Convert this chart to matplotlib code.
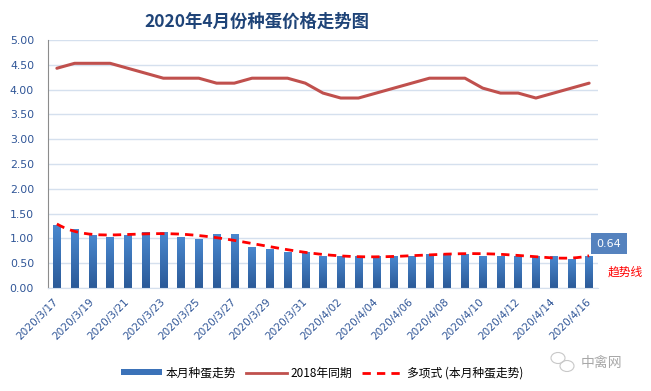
import numpy as np
import matplotlib
matplotlib.use("Agg")
import matplotlib.pyplot as plt
from matplotlib.lines import Line2D
from matplotlib.patches import Patch, Ellipse
from matplotlib.colors import LinearSegmentedColormap

plt.rcParams['font.family'] = ['Noto Sans CJK SC', 'DejaVu Sans']

# ---------------- data ----------------
dates = ["2020/3/%d" % d for d in range(17, 32)] + ["2020/4/%02d" % d for d in range(1, 17)]
this_month = [1.28, 1.18, 1.07, 1.03, 1.07, 1.13, 1.13, 1.03, 0.99, 1.09,
              1.09, 0.83, 0.79, 0.73, 0.73, 0.65, 0.65, 0.65, 0.65, 0.65,
              0.65, 0.69, 0.69, 0.69, 0.65, 0.65, 0.65, 0.65, 0.65, 0.59,
              0.64]
same_2018 = [4.43, 4.53, 4.53, 4.53, 4.43, 4.33, 4.23, 4.23, 4.23, 4.13,
             4.13, 4.23, 4.23, 4.23, 4.13, 3.93, 3.83, 3.83, 3.93, 4.03,
             4.13, 4.23, 4.23, 4.23, 4.03, 3.93, 3.93, 3.83, 3.93, 4.03,
             4.13]
yticks = [0.0, 0.5, 1.0, 1.5, 2.0, 2.5, 3.0, 3.5, 4.0, 4.5, 5.0]
title = "2020年4月份种蛋价格走势图"
legend_labels = ["本月种蛋走势", "2018年同期", "多项式 (本月种蛋走势)"]

# ---------------- figure ----------------
W, H = 651, 391
fig = plt.figure(figsize=(W / 100, H / 100), dpi=100)
ax = fig.add_axes([48 / W, 1 - 288 / H, 550 / W, 248 / H])

x = np.arange(len(dates))
bars = ax.bar(x, this_month, width=0.42, color="#3b72b8", zorder=2)

# gradient fill on bars
grad = np.linspace(0, 1, 256).reshape(-1, 1)
cmap = LinearSegmentedColormap.from_list("g", ["#2b5a98", "#4a89d0"])
for r in bars:
    x0, y0 = r.get_x(), r.get_y()
    w, h = r.get_width(), r.get_height()
    im = ax.imshow(grad, extent=[x0, x0 + w, y0, y0 + h], origin="lower",
                   cmap=cmap, aspect="auto", zorder=2.1)
    im.set_clip_path(r)

ax.plot(x, same_2018, color="#c0504d", lw=2.2, zorder=3, solid_capstyle="round")

# polynomial trendline (fit of bar series)
coef = np.polyfit(x, this_month, 6)
xs = np.linspace(0, len(x) - 1, 300)
ax.plot(xs, np.polyval(coef, xs), color="#ff0000", lw=2.0, ls=(0, (3, 2.2)), zorder=4)

ax.set_xlim(-0.5, len(x) - 0.5)
ax.set_ylim(0, 5.0)
ax.set_yticks(yticks)
ax.set_yticklabels(["%.2f" % v for v in yticks], fontsize=7.8, color="#2f5597",
                   family=["DejaVu Sans"])
ax.set_xticks(x[::2])
ax.set_xticklabels(dates[::2], rotation=45, ha="right", va="center",
                   rotation_mode="anchor", fontsize=7.6, color="#2f5597",
                   family=["DejaVu Sans"])
ax.tick_params(axis="both", length=0)
ax.tick_params(axis="x", pad=9)
ax.tick_params(axis="y", pad=10)
ax.grid(axis="y", color="#d5e0ee", lw=1, zorder=0)
ax.set_axisbelow(True)
for s in ["top", "right"]:
    ax.spines[s].set_visible(False)
ax.spines["left"].set_color("#8c8c8c")
ax.spines["bottom"].set_color("#d5e0ee")

# data label on last bar
ax.annotate("%.2f" % this_month[-1], xy=(x[-1], this_month[-1]),
            xytext=(14, 9), textcoords="offset points", ha="center", va="center",
            fontsize=8, color="white", family=["DejaVu Sans"],
            bbox=dict(boxstyle="square,pad=0.5", fc="#5582be", ec="none"))

fig.text(625 / W, 1 - 272 / H, "趋势线", color="#ff0000", fontsize=8.5,
         ha="center", va="center")

fig.text(257 / W, 1 - 22 / H, title, fontsize=12.5, fontweight="bold",
         color="#1f4478", ha="center", va="center")

handles = [Patch(facecolor="#3b72b8"),
           Line2D([0], [0], color="#c0504d", lw=2),
           Line2D([0], [0], color="#ff0000", lw=2, ls=(0, (3, 2.2)))]
leg = fig.legend(handles, legend_labels, loc="center", ncol=3,
                 bbox_to_anchor=(322 / W, 1 - 373 / H), frameon=False,
                 fontsize=8.5, handlelength=3.5, handleheight=0.4,
                 columnspacing=0.8, handletextpad=0.3)

# watermark
fig.text(601 / W, 1 - 363 / H, "中禽网", color="#a8a8a8", fontsize=10,
         ha="center", va="center")
fig.add_artist(Ellipse((558 / W, 1 - 358 / H), 14 / W, 11 / H, fill=False,
                       ec="#c8c8c8", lw=0.8, transform=fig.transFigure))
fig.add_artist(Ellipse((567 / W, 1 - 366 / H), 14 / W, 11 / H, fill=False,
                       ec="#c8c8c8", lw=0.8, transform=fig.transFigure))

fig.savefig("out.png", dpi=100, facecolor="white")
